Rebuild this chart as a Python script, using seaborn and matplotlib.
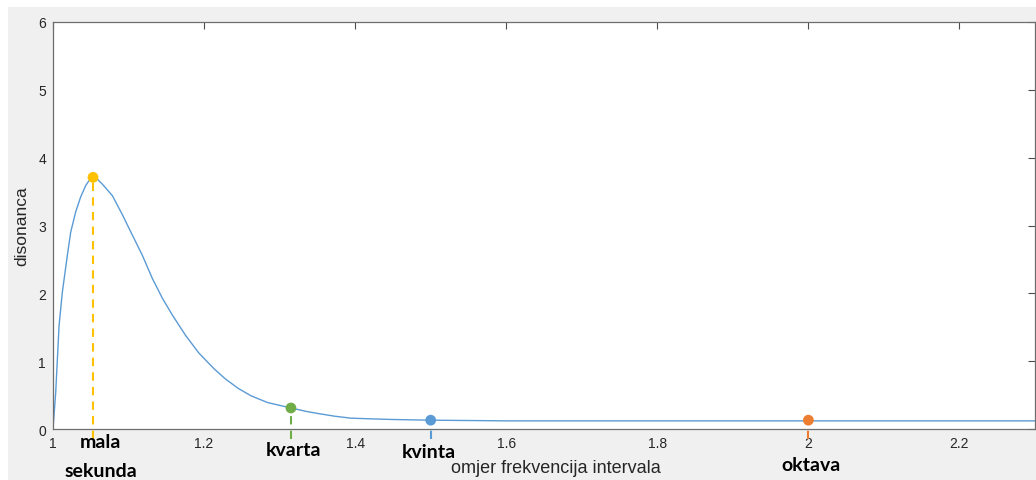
import matplotlib
matplotlib.use("Agg")
import matplotlib.pyplot as plt
from matplotlib.patches import Rectangle
import seaborn as sns
import pandas as pd

# dissonance curve
omjer = [1.0, 1.0036, 1.0058, 1.008, 1.0124, 1.019, 1.0234, 1.030, 1.0366, 1.0434,
         1.0476, 1.053, 1.059, 1.0653, 1.0786, 1.0918, 1.105, 1.1183, 1.1315, 1.1447, 1.158,
         1.1755, 1.1931, 1.213, 1.228, 1.245, 1.262, 1.284, 1.315, 1.335, 1.350,
         1.372, 1.394, 1.42, 1.45, 1.5, 1.6, 1.8, 2.0, 2.3]
disonanca = [0.0, 0.54, 1.03, 1.52, 2.02, 2.56, 2.90, 3.20, 3.42, 3.59,
             3.66, 3.71, 3.68, 3.61, 3.44, 3.16, 2.86, 2.56, 2.22, 1.93, 1.68,
             1.38, 1.12, 0.89, 0.74, 0.60, 0.49, 0.39, 0.31, 0.26, 0.23,
             0.19, 0.16, 0.15, 0.14, 0.13, 0.12, 0.12, 0.12, 0.12]

# marked intervals
intervali = ["mala\nsekunda", "kvarta", "kvinta", "oktava"]
int_x = [1.053, 1.315, 1.5, 2.0]
int_y = [3.71, 0.31, 0.13, 0.13]
int_boje = ["#FFC000", "#70AD47", "#5B9BD5", "#ED7D31"]
label_x = [1.063, 1.318, 1.498, 2.003]
label_y = [-0.19, -0.295, -0.325, -0.516]

x_ticks = [1, 1.2, 1.4, 1.6, 1.8, 2, 2.2]
x_tick_labels = ["1", "1.2", "1.4", "1.6", "1.8", "2", "2.2"]
y_ticks = [0, 1, 2, 3, 4, 5, 6]

curve = pd.DataFrame({"omjer": omjer, "disonanca": disonanca})
points = pd.DataFrame({"x": int_x, "y": int_y, "ime": intervali})

sns.set_style("white")
plt.rcParams["font.family"] = ["Liberation Sans", "DejaVu Sans"]

fig = plt.figure(figsize=(10.36, 4.81), dpi=100)
fig.patch.set_facecolor("white")
fig.patches.append(Rectangle((8 / 1036, 0), 1, (481 - 8) / 481, transform=fig.transFigure,
                             facecolor="#f0f0f0", edgecolor="none", zorder=-10))
ax = fig.add_axes([53 / 1036, 1 - 430 / 481, (1035 - 53) / 1036, (430 - 23) / 481])
ax.set_facecolor("white")

sns.lineplot(data=curve, x="omjer", y="disonanca", ax=ax, color="#5B9BD5", linewidth=1.0)

for xi, yi, c in zip(int_x, int_y, int_boje):
    ax.vlines(xi, -0.15, yi, colors=c, linestyles=(0, (4, 3)), linewidth=1.5, clip_on=False, zorder=3)

sns.scatterplot(data=points, x="x", y="y", hue="ime", palette=int_boje, s=60,
                edgecolor="none", legend=False, ax=ax, zorder=4, clip_on=False)

# one text per line so the line gap matches the reference
for lab, lx, ly in zip(intervali, label_x, label_y):
    for i, line in enumerate(lab.split("\n")):
        ax.text(lx, ly - i * 0.42, line, ha="center", va="center",
                fontsize=14, fontweight="bold", family=["Lato", "DejaVu Sans"],
                color="black", clip_on=False, zorder=5)

ax.set_xlim(1, 2.3)
ax.set_ylim(0, 6)
ax.set_xticks(x_ticks)
ax.set_xticklabels(x_tick_labels)
ax.set_yticks(y_ticks)
ax.tick_params(direction="in", length=5, width=0.8, colors="#4d4d4d", labelcolor="#262626",
               labelsize=10, top=True, right=True, pad=5)
for s in ax.spines.values():
    s.set_color("#6e6e6e")
    s.set_linewidth(0.9)

ax.set_xlabel("omjer frekvencija intervala", fontsize=13, color="#262626")
ax.set_ylabel("disonanca", fontsize=12.5, color="#262626")
ax.xaxis.set_label_coords(0.512, -0.074)
ax.yaxis.set_label_coords(-0.024, 0.502)

fig.savefig("out.png", dpi=100, facecolor=fig.get_facecolor())
